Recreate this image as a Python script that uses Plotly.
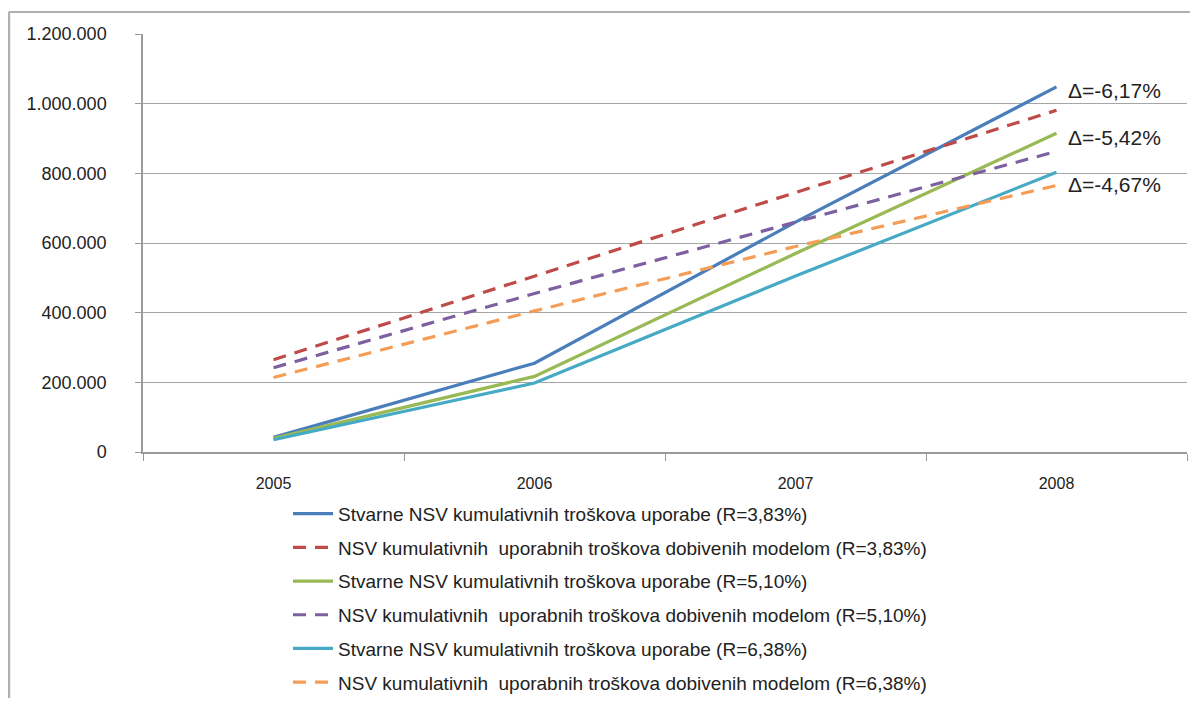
import plotly.graph_objects as go

years = ["2005", "2006", "2007", "2008"]

actual_383 = [42000, 255000, 660000, 1048000]
model_383 = [265000, 505000, 745000, 981000]
actual_510 = [39000, 217000, 570000, 915000]
model_510 = [242000, 455000, 660000, 863000]
actual_638 = [35000, 198000, 505000, 803000]
model_638 = [214000, 405000, 590000, 765000]

names = [
    "Stvarne NSV kumulativnih troškova uporabe (R=3,83%)",
    "NSV kumulativnih\u00a0 uporabnih troškova dobivenih modelom (R=3,83%)",
    "Stvarne NSV kumulativnih troškova uporabe (R=5,10%)",
    "NSV kumulativnih\u00a0 uporabnih troškova dobivenih modelom (R=5,10%)",
    "Stvarne NSV kumulativnih troškova uporabe (R=6,38%)",
    "NSV kumulativnih\u00a0 uporabnih troškova dobivenih modelom (R=6,38%)",
]
series = [actual_383, model_383, actual_510, model_510, actual_638, model_638]
colors = ["#4a7ebb", "#be4b48", "#98b954", "#7d60a0", "#46aac5", "#f59d56"]
dashes = ["solid", "13px,9px", "solid", "13px,9px", "solid", "13px,9px"]

delta_labels = ["Δ=-6,17%", "Δ=-5,42%", "Δ=-4,67%"]
delta_series = [actual_383, actual_510, model_638]

tick_vals = [0, 200000, 400000, 600000, 800000, 1000000, 1200000]
tick_text = ["0", "200.000", "400.000", "600.000", "800.000", "1.000.000", "1.200.000"]

fig = go.Figure()
for i, (nm, vals) in enumerate(zip(names, series)):
    fig.add_trace(go.Scatter(
        x=years, y=vals, name=nm, mode="lines",
        line=dict(color=colors[i], width=3.2, dash=dashes[i]),
        legendgroup=str(i),
    ))

for lab, s, ys in zip(delta_labels, delta_series, [-4, -4, 1]):
    fig.add_annotation(xref="x", yref="y", x=len(years) - 1, y=s[-1], text=lab,
                       showarrow=False, xanchor="left", yanchor="middle",
                       xshift=9, yshift=ys,
                       font=dict(size=21, color="#222"))

# outer chart frame (top and left edges only, as in the reference)
fig.add_shape(type="line", xref="paper", yref="paper",
              x0=-0.1284, x1=1.02, y0=1.0526, y1=1.0526,
              line=dict(color="#b0b0b0", width=2), layer="below")
fig.add_shape(type="line", xref="paper", yref="paper",
              x0=-0.1284, x1=-0.1284, y0=1.0526, y1=-0.7,
              line=dict(color="#b0b0b0", width=2.5), layer="below")

fig.update_layout(
    width=1182, height=690,
    margin=dict(l=135, r=3, t=26, b=246),
    paper_bgcolor="white", plot_bgcolor="white",
    font=dict(family="Liberation Sans, Arial, sans-serif", size=15, color="#333"),
    showlegend=True,
    legend=dict(x=0.1389, y=0.2945, xref="paper", yref="container",
                xanchor="left", yanchor="top",
                font=dict(size=19, color="#222"), tracegroupgap=6,
                itemwidth=40, bgcolor="rgba(0,0,0,0)"),
    xaxis=dict(type="category", range=[-0.5, 3.5], showgrid=False,
               showline=True, linecolor="#9a9a9a", linewidth=1.5,
               ticks="outside", tickson="boundaries", ticklen=7, tickcolor="#9a9a9a",
               ticklabelstandoff=16,
               tickfont=dict(size=16, color="#222"), fixedrange=True),
    yaxis=dict(range=[0, 1200000], tickvals=tick_vals, ticktext=tick_text,
               showgrid=True, gridcolor="#a6a6a6", gridwidth=1,
               showline=True, linecolor="#9a9a9a", linewidth=1.5,
               ticks="outside", ticklen=6, tickcolor="#9a9a9a",
               ticklabelstandoff=25,
               tickfont=dict(size=18, color="#222"), zeroline=False),
)

fig.write_html("out.html")
